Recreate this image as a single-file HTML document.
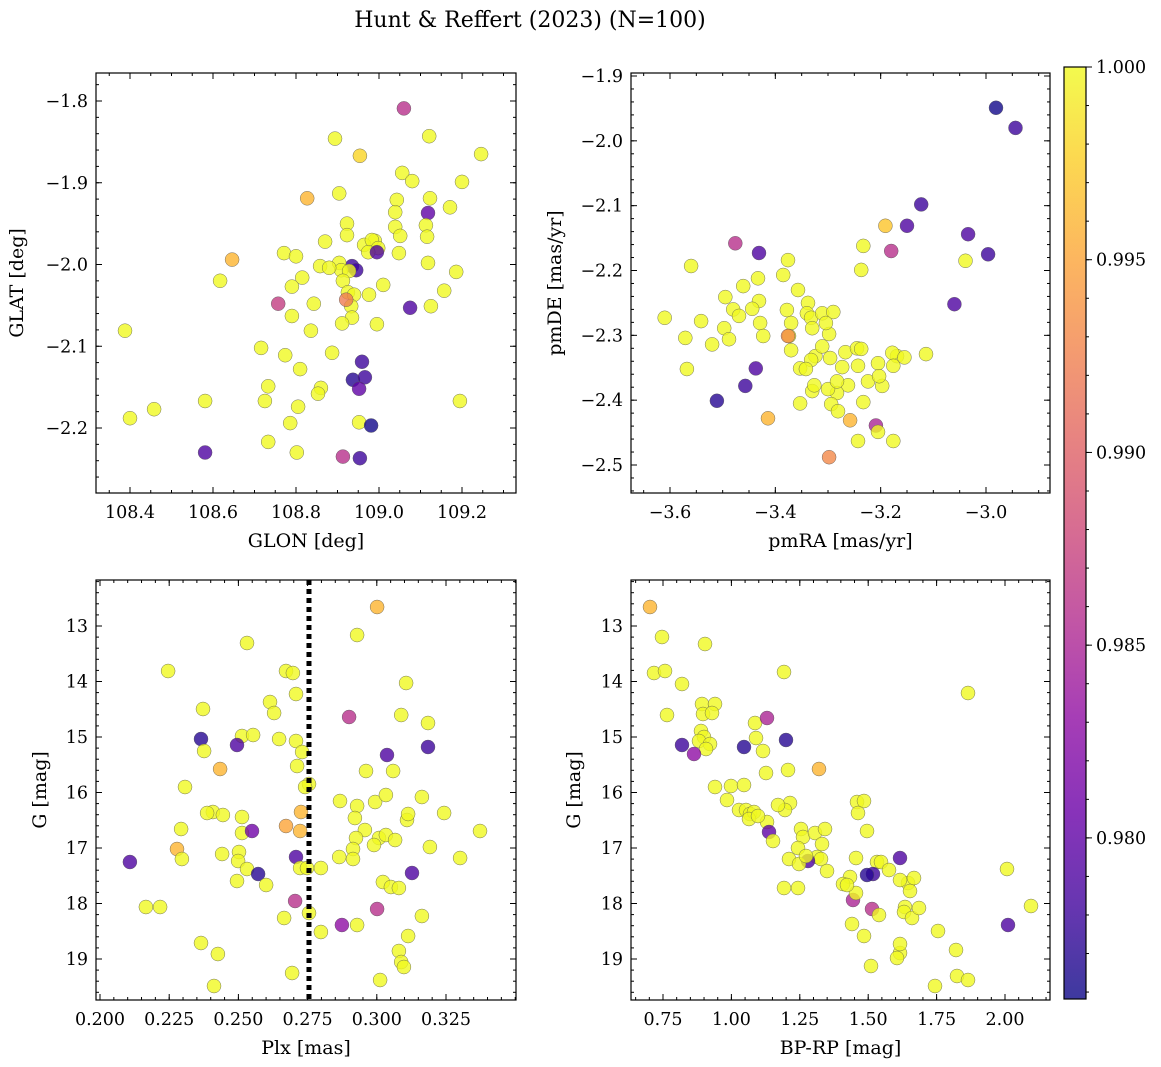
<!DOCTYPE html>
<html><head><meta charset="utf-8"><style>
html,body{margin:0;padding:0;background:#fff}
svg{display:block;font-family:"DejaVu Serif","Liberation Serif",serif}
</style></head><body>
<svg id="fig" width="1161" height="1067" viewBox="0 0 1161 1067">
<text x="530" y="27" text-anchor="middle" font-size="22" fill="#000">Hunt &amp; Reffert (2023) (N=100)</text>
</svg>
<script>
// ---- Panel 1: GLON vs GLAT ----
const p1x=[109.060,108.894,109.121,108.954,109.056,109.080,109.200,108.904,109.123,109.043,109.171,109.118,108.827,108.923,109.039,109.039,109.113,108.990,108.923,108.964,108.983,108.998,108.974,108.995,109.051,109.116,109.048,109.118,108.646,108.771,108.800,108.870,108.935,108.945,108.904,108.909,108.928,109.186,108.815,108.858,108.880,108.913,108.617,109.010,109.157,108.925,108.940,108.790,108.976,108.757,108.843,109.075,109.125,108.933,108.921,108.935,108.790,108.836,108.911,108.995,108.716,108.774,108.887,108.959,108.810,108.937,108.966,108.860,108.733,108.725,108.805,108.952,108.853,108.952,108.981,108.458,108.400,108.786,108.581,108.733,108.802,108.913,108.954,108.581,108.388,109.195,109.246];
const p1y=[-1.809,-1.846,-1.843,-1.867,-1.888,-1.898,-1.899,-1.913,-1.919,-1.921,-1.930,-1.937,-1.919,-1.950,-1.936,-1.954,-1.952,-1.971,-1.964,-1.976,-1.970,-1.980,-1.985,-1.985,-1.965,-1.966,-1.986,-1.998,-1.994,-1.986,-1.990,-1.972,-2.002,-2.007,-1.998,-2.007,-2.008,-2.009,-2.016,-2.002,-2.004,-2.020,-2.020,-2.025,-2.032,-2.034,-2.037,-2.027,-2.037,-2.048,-2.048,-2.053,-2.051,-2.051,-2.043,-2.065,-2.063,-2.081,-2.072,-2.073,-2.102,-2.111,-2.108,-2.119,-2.128,-2.141,-2.138,-2.151,-2.149,-2.167,-2.174,-2.152,-2.158,-2.193,-2.197,-2.177,-2.188,-2.194,-2.167,-2.217,-2.230,-2.235,-2.237,-2.230,-2.081,-2.167,-1.865];
const p1c=[.986,1,1,.998,1,1,1,1,1,1,1,.980,.996,1,1,1,1,1,1,1,1,1,1,.979,1,1,1,1,.996,1,1,1,.978,.978,1,1,1,1,1,1,1,1,1,1,1,1,1,1,1,.987,1,.979,1,1,.992,1,1,1,1,1,1,1,1,.978,1,.977,.978,1,1,1,1,.980,1,1,.976,1,1,1,1,1,1,.986,.978,.979,1,1,1];
// ---- Panel 2: pmRA vs pmDE ----
const p2x=[-2.981,-2.944,-3.123,-3.191,-3.180,-3.150,-3.034,-2.996,-3.039,-3.476,-3.431,-3.560,-3.376,-3.385,-3.233,-3.237,-3.060,-3.495,-3.461,-3.541,-3.433,-3.431,-3.357,-3.338,-3.340,-3.480,-3.520,-3.469,-3.610,-3.571,-3.568,-3.497,-3.488,-3.429,-3.378,-3.370,-3.423,-3.374,-3.370,-3.332,-3.311,-3.330,-3.290,-3.298,-3.304,-3.324,-3.311,-3.353,-3.332,-3.296,-3.267,-3.245,-3.273,-3.237,-3.205,-3.197,-3.243,-3.262,-3.283,-3.294,-3.169,-3.178,-3.176,-3.155,-3.114,-3.330,-3.353,-3.300,-3.233,-3.281,-3.414,-3.258,-3.298,-3.342,-3.209,-3.205,-3.176,-3.243,-3.437,-3.457,-3.511,-3.376,-3.224,-3.203,-3.283,-3.326,-3.444];
const p2y=[-1.949,-1.980,-2.098,-2.131,-2.170,-2.131,-2.144,-2.175,-2.185,-2.158,-2.173,-2.193,-2.184,-2.207,-2.162,-2.199,-2.252,-2.241,-2.224,-2.278,-2.212,-2.247,-2.230,-2.250,-2.266,-2.260,-2.314,-2.270,-2.273,-2.304,-2.352,-2.289,-2.306,-2.281,-2.261,-2.281,-2.301,-2.301,-2.323,-2.273,-2.266,-2.289,-2.264,-2.298,-2.281,-2.332,-2.317,-2.351,-2.338,-2.335,-2.326,-2.320,-2.349,-2.321,-2.343,-2.378,-2.347,-2.377,-2.389,-2.406,-2.332,-2.327,-2.347,-2.334,-2.329,-2.386,-2.405,-2.383,-2.403,-2.417,-2.428,-2.431,-2.488,-2.352,-2.439,-2.449,-2.463,-2.463,-2.351,-2.378,-2.401,-2.301,-2.371,-2.363,-2.371,-2.377,-2.259];
const p2c=[.976,.978,.978,.997,.986,.979,.979,.978,1,.986,.979,1,1,1,1,1,.979,1,1,1,1,1,1,1,1,1,1,1,1,1,1,1,1,1,1,1,1,1,1,1,1,1,1,1,1,1,1,1,1,1,1,1,1,1,1,1,1,1,1,1,1,1,1,1,1,1,1,1,1,1,.996,.996,.993,1,.985,1,1,1,.979,.978,.977,.993,1,1,1,1,1];
// ---- Panel 3: Plx vs G ----
const plxLine=0.2755;
const p3x=[.3001,.2531,.2929,.2246,.2672,.2697,.3106,.2614,.2708,.2629,.2372,.2513,.2900,.3088,.3185,.2365,.2495,.2553,.2647,.2376,.2708,.2730,.2434,.3037,.3185,.2712,.2961,.3059,.2755,.2307,.3163,.2741,.2408,.2387,.2444,.2513,.2867,.2929,.2994,.3033,.3243,.2957,.2513,.2921,.3008,.3033,.3109,.3113,.2726,.2549,.2672,.2925,.2990,.3066,.2293,.2723,.2914,.2864,.3192,.3373,.2278,.2296,.2441,.2502,.2499,.2708,.2108,.2914,.3301,.2531,.2571,.3127,.2723,.2798,.3022,.2495,.2600,.3051,.3080,.2748,.2705,.2166,.2217,.2755,.2665,.3163,.2874,.2929,.3001,.2798,.3113,.2365,.2426,.3080,.3088,.3098,.2694,.3012,.2412];
const p3y=[12.658,13.306,13.162,13.811,13.811,13.847,14.027,14.369,14.225,14.568,14.495,14.982,14.640,14.604,14.748,15.036,15.144,14.964,15.036,15.252,15.072,15.270,15.577,15.324,15.180,15.523,15.613,15.613,15.847,15.901,16.081,15.901,16.351,16.369,16.405,16.441,16.153,16.243,16.171,16.045,16.369,16.676,16.730,16.459,16.820,16.766,16.495,16.387,16.351,16.694,16.604,16.820,16.946,16.856,16.658,16.694,17.018,17.162,16.982,16.694,17.018,17.198,17.108,17.072,17.234,17.162,17.252,17.198,17.180,17.378,17.468,17.450,17.360,17.360,17.613,17.595,17.667,17.703,17.721,17.360,17.955,18.063,18.063,18.171,18.261,18.225,18.387,18.387,18.099,18.514,18.586,18.712,18.910,18.856,19.054,19.144,19.252,19.378,19.486];
const p3c=[.996,1,1,1,1,1,1,1,1,1,1,1,.986,1,1,.977,.979,1,1,1,1,1,.996,.979,.978,1,1,1,1,1,1,1,1,1,1,1,1,1,1,1,1,1,1,1,1,1,1,1,.996,.981,.995,1,1,1,1,.996,1,1,1,1,.996,1,1,1,1,.979,.979,1,1,1,.977,.979,1,1,1,1,1,1,1,1,.986,1,1,1,1,1,.983,1,.986,1,1,1,1,1,1,1,1,1,1];
// ---- Panel 4: BP-RP vs G ----
const p4x=[.7025,.7463,.7171,.7573,.9035,.8194,.7646,1.1923,.8925,.8962,.9401,.9291,.8889,.8999,.8816,.9218,.9072,.8633,.8194,1.0461,1.1996,1.0863,1.0900,1.1155,1.1265,1.2069,1.3202,1.1302,.9985,.9401,1.0461,.9839,1.0278,1.0534,1.0680,1.0826,1.0643,1.1301,1.2142,1.1959,1.0972,1.1703,1.2544,1.1374,1.1521,1.2617,1.3056,1.3421,1.3311,1.2434,1.2105,1.3129,1.3275,1.2800,1.2471,1.3494,1.2727,1.4591,1.4847,1.4628,1.4956,1.4555,1.4335,1.4079,1.4445,1.4555,1.5322,1.5176,1.4956,1.4225,1.5139,1.5395,1.4408,1.4847,1.5102,1.5468,1.5760,1.2434,1.6455,1.6163,1.6674,1.6528,1.6345,1.6308,1.6601,1.6857,1.6162,1.8648,2.0073,2.0950,2.0110,1.7551,1.8209,1.8246,1.8648,1.7442,1.6162,1.6052,1.6162,1.1923];
const p4y=[12.658,13.198,13.847,13.811,13.324,14.045,14.604,13.829,14.405,14.586,14.405,14.568,14.892,15.000,15.072,15.126,15.216,15.306,15.144,15.180,15.054,14.748,15.018,15.252,15.649,15.595,15.577,14.658,15.883,15.901,15.865,16.135,16.315,16.315,16.387,16.351,16.477,16.532,16.189,16.315,16.423,16.225,16.658,16.712,16.874,16.802,16.730,16.658,16.928,17.000,17.198,17.162,17.198,17.234,17.288,17.414,17.144,16.171,16.153,16.369,16.694,17.180,17.522,17.649,17.937,17.811,17.252,17.468,17.486,17.667,18.099,18.207,18.369,18.586,19.126,17.252,17.396,17.721,17.631,17.577,17.541,17.775,18.063,18.153,18.261,18.081,17.180,14.207,17.378,18.045,18.387,18.495,18.838,19.306,19.378,19.486,18.892,18.982,18.730,17.721];
const p4c=[.996,1,1,1,1,1,1,1,1,1,1,1,1,1,1,1,1,.983,.978,.977,.977,1,1,1,1,1,.996,.985,1,1,1,1,1,1,1,1,1,1,1,1,1,1,1,.980,1,1,1,1,1,1,1,1,1,.979,1,1,1,1,1,1,1,1,1,1,.985,1,1,.978,.977,1,.986,1,1,1,1,1,1,1,1,1,1,1,1,1,1,1,.979,1,1,1,.979,1,1,1,1,1,1,1,1,1];
const cTicks=[0.980,0.985,0.990,0.995,1.000];

const NS='http://www.w3.org/2000/svg';
const svg=document.getElementById('fig');
const VMIN=0.97582, VMAX=1.0;
const FS=17.5;
const PL=[[13,8,135],[65,4,157],[106,0,168],[143,13,164],[177,42,144],[204,71,120],[225,100,98],[242,132,75],[252,166,54],[252,206,37],[240,249,33]];
function plasma(t){t=Math.max(0,Math.min(1,t));const f=t*10,i=Math.min(9,Math.floor(f)),r=f-i;const a=PL[i],b=PL[i+1];return 'rgb('+a.map((v,k)=>Math.round(v+(b[k]-v)*r)).join(',')+')';}
function el(tag,attrs,parent){const e=document.createElementNS(NS,tag);for(const k in attrs)e.setAttribute(k,attrs[k]);(parent||svg).appendChild(e);return e;}
function fmt(v,d){let s=v.toFixed(d);return s.replace('-','\u2212');}

function panel(name,box,xa,ya,xs,ys,cs,xt,xmin,yt,ymin,xd,yd,xlab,ylab,ylabX){
  const [L,T,R,B]=box;
  const sx=v=>xa[1]+(v-xa[0])*(xa[3]-xa[1])/(xa[2]-xa[0]);
  const sy=v=>ya[1]+(v-ya[0])*(ya[3]-ya[1])/(ya[2]-ya[0]);
  const g=el('g',{});
  
  
  const pts=el('g',{},g);
  for(let i=0;i<xs.length;i++){
    const c=el('circle',{cx:sx(xs[i]).toFixed(1),cy:sy(ys[i]).toFixed(1),r:7,fill:plasma((cs[i]-VMIN)/(VMAX-VMIN)),'fill-opacity':0.8,stroke:'#555','stroke-width':0.5,'stroke-opacity':0.8},pts);
    
    
  }
  return {g,sx,sy,L,T,R,B,xt,xmin,yt,ymin,xd,yd,xlab,ylab,ylabX};
}
function axes(p){
  const {g,sx,sy,L,T,R,B}=p;
  const ax=el('g',{stroke:'#000','stroke-width':1},g);
  for(const v of p.xmin){const x=sx(v);if(x<L||x>R)continue;el('line',{x1:x,x2:x,y1:B,y2:B-3},ax);el('line',{x1:x,x2:x,y1:T,y2:T+3},ax);}
  for(const v of p.ymin){const y=sy(v);if(y<T||y>B)continue;el('line',{x1:L,x2:L+3,y1:y,y2:y},ax);el('line',{x1:R,x2:R-3,y1:y,y2:y},ax);}
  for(const v of p.xt){const x=sx(v);if(x<L+1||x>R-2)continue;el('line',{x1:x,x2:x,y1:B,y2:B-6},ax);el('line',{x1:x,x2:x,y1:T,y2:T+6},ax);
    const t=el('text',{x:x,y:B+25,'text-anchor':'middle','font-size':FS,stroke:'none',fill:'#000'},g);t.textContent=fmt(v,p.xd);
    }
  for(const v of p.yt){const y=sy(v);if(y<T||y>B)continue;el('line',{x1:L,x2:L+6,y1:y,y2:y},ax);el('line',{x1:R,x2:R-6,y1:y,y2:y},ax);
    const t=el('text',{x:L-8,y:y+6,'text-anchor':'end','font-size':FS,stroke:'none',fill:'#000'},g);t.textContent=fmt(v,p.yd);
    }
  el('rect',{x:L,y:T,width:R-L,height:B-T,fill:'none',stroke:'#000','stroke-width':1.2},g);
  const xl=el('text',{x:(L+R)/2,y:B+54,'text-anchor':'middle','font-size':19,fill:'#000'},g);xl.textContent=p.xlab;
  
  const yl=el('text',{x:0,y:0,'text-anchor':'middle','font-size':19,fill:'#000',transform:'translate('+p.ylabX+','+((T+B)/2)+') rotate(-90)'},g);yl.textContent=p.ylab;
  
}
function range(a,b,s){const r=[];for(let v=a;v<=b+s/1e3;v+=s)r.push(+v.toFixed(6));return r;}

const P1=panel('glon-glat',[96,73,516,493],[108.4,130,109.2,462],[-1.8,101,-2.2,428],p1x,p1y,p1c,
 range(108.2,109.4,0.2),range(108.2,109.4,0.05),range(-2.3,-1.7,0.1),range(-2.3,-1.7,0.02),1,1,'GLON [deg]','GLAT [deg]',23);
axes(P1);
const P2=panel('pm',[631,73,1050,493],[-3.6,670,-3.0,986],[-1.9,76,-2.5,465],p2x,p2y,p2c,
 range(-3.8,-2.8,0.2),range(-3.8,-2.8,0.05),range(-2.6,-1.8,0.1),range(-2.6,-1.8,0.02),1,1,'pmRA [mas/yr]','pmDE [mas/yr]',561);
axes(P2);
const P3=panel('plx-g',[96,580,516,1000],[0.2,100,0.325,446],[13,626,19,959],p3x,p3y,p3c,
 range(0.175,0.35,0.025),range(0.175,0.35,0.005),range(12,20,1),range(12,20,0.2),3,0,'Plx [mas]','G [mag]',46);
const dl=el('line',{x1:P3.sx(plxLine),x2:P3.sx(plxLine),y1:580,y2:1000,stroke:'#000','stroke-width':5,'stroke-dasharray':'5,4'},P3.g);


axes(P3);
const P4=panel('cmd',[631,580,1050,1000],[0.75,663,2.0,1005],[13,626,19,959],p4x,p4y,p4c,
 range(0.5,2.25,0.25),range(0.5,2.25,0.05),range(12,20,1),range(12,20,0.2),2,0,'BP-RP [mag]','G [mag]',580);
axes(P4);

// colorbar
const cb=el('g',{});


const defs=el('defs',{},cb);
const lg=el('linearGradient',{id:'pg',x1:0,y1:1,x2:0,y2:0},defs);
for(let i=0;i<=10;i++)el('stop',{offset:(i*10)+'%','stop-color':plasma(i/10),'stop-opacity':0.8},lg);
const CT=67,CB=999,CL=1064,CR=1086;
el('rect',{x:CL,y:CT,width:CR-CL,height:CB-CT,fill:'url(#pg)'},cb);
const cy=v=>CB-(v-VMIN)/(VMAX-VMIN)*(CB-CT);
for(let v=0.976;v<=1.0001;v+=0.001){const y=cy(v);if(y<CT||y>CB)continue;el('line',{x1:CR,x2:CR+3,y1:y,y2:y,stroke:'#000'},cb);}
for(const v of cTicks){const y=cy(v);el('line',{x1:CR,x2:CR+6,y1:y,y2:y,stroke:'#000'},cb);
  const t=el('text',{x:CR+10,y:y+6,'font-size':FS,fill:'#000'},cb);t.textContent=v.toFixed(3);
  }
el('rect',{x:CL,y:CT,width:CR-CL,height:CB-CT,fill:'none',stroke:'#000','stroke-width':1.2},cb);
</script>
</body></html>
